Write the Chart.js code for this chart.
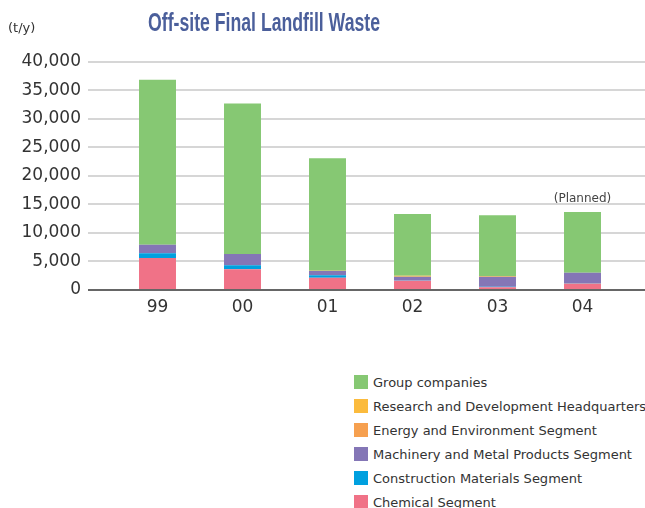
<!DOCTYPE html>
<html>
<head>
<meta charset="utf-8">
<script src="https://cdn.jsdelivr.net/npm/chart.js@4/dist/chart.umd.min.js"></script>
<style>
  html, body { margin: 0; padding: 0; background: #fff; }
  #wrap { position: relative; width: 645px; height: 508px; overflow: hidden; }
  #c { position: absolute; left: 0; top: 0; }
  #title { position: absolute; left: 148px; top: 10px; font-family: "Liberation Sans Narrow", "Liberation Sans", sans-serif; font-weight: 700; font-size: 25px; line-height: 25px; color: #4b5f9b; white-space: nowrap; transform-origin: 0 0; }
  #unit { position: absolute; left: 8px; top: 20px; font-family: "DejaVu Sans", sans-serif; font-size: 13px; line-height: 16px; color: #333; }
  #legend { position: absolute; left: 354px; top: 370px; font-family: "DejaVu Sans", sans-serif; font-size: 13px; color: #333; }
  .row { height: 24px; display: flex; align-items: center; white-space: nowrap; }
  .sw { width: 14px; height: 14px; margin-right: 5px; flex: none; }
</style>
</head>
<body>
<div id="wrap">
  <canvas id="c" width="645" height="334"></canvas>
  <div id="title">Off-site Final Landfill Waste</div>
  <div id="unit">(t/y)</div>
  <div id="legend"></div>
</div>
<script>
const years = ['99', '00', '01', '02', '03', '04'];
const chemical = [5600, 3600, 2100, 1600, 450, 1100];
const construction = [800, 700, 450, 50, 80, 100];
const machinery = [1500, 2000, 750, 650, 1750, 1800];
const energy = [0, 0, 50, 0, 0, 0];
const research = [0, 0, 0, 150, 150, 0];
const group = [29000, 26400, 19750, 10850, 10670, 10650];
const yTicks = [0, 5000, 10000, 15000, 20000, 25000, 30000, 35000, 40000];
const plannedLabel = '(Planned)';
const plannedIndex = 5;

const seriesNames = ['Chemical Segment', 'Construction Materials Segment', 'Machinery and Metal Products Segment', 'Energy and Environment Segment', 'Research and Development Headquarters', 'Group companies'];
const seriesColors = ['#f07287', '#00a0df', '#8476b6', '#f6a04f', '#fbbb3d', '#86c873'];
const seriesData = [chemical, construction, machinery, energy, research, group];

(function(){
  const t = document.getElementById('title');
  const w = t.getBoundingClientRect().width;
  t.style.transform = 'scaleX(' + (232 / w) + ')';
})();

const leg = document.getElementById('legend');
for (let i = seriesNames.length - 1; i >= 0; i--) {
  const r = document.createElement('div');
  r.className = 'row';
  r.innerHTML = '<span class="sw" style="background:' + seriesColors[i] + '"></span><span>' + seriesNames[i] + '</span>';
  leg.appendChild(r);
}

const gridPlugin = {
  id: 'extGrid',
  beforeDatasetsDraw(chart) {
    const ctx = chart.ctx, y = chart.scales.y;
    ctx.save();
    ctx.strokeStyle = '#d6d6d6';
    ctx.lineWidth = 2;
    yTicks.forEach(v => {
      if (v === 0) return;
      const py = Math.round(y.getPixelForValue(v));
      ctx.beginPath(); ctx.moveTo(88, py); ctx.lineTo(645, py); ctx.stroke();
    });
    ctx.restore();
  },
  afterDatasetsDraw(chart) {
    const ctx = chart.ctx, y = chart.scales.y, x = chart.scales.x;
    ctx.save();
    ctx.strokeStyle = '#666';
    ctx.lineWidth = 2;
    const py = Math.round(y.getPixelForValue(0));
    ctx.beginPath(); ctx.moveTo(88, py); ctx.lineTo(645, py); ctx.stroke();
    let tot = 0; seriesData.forEach(a => tot += a[plannedIndex]);
    ctx.fillStyle = '#444';
    ctx.font = '12px "DejaVu Sans"';
    ctx.textAlign = 'center';
    ctx.textBaseline = 'middle';
    ctx.fillText(plannedLabel, x.getPixelForValue(plannedIndex), y.getPixelForValue(tot) - 13);
    ctx.restore();
  }
};

new Chart(document.getElementById('c'), {
  type: 'bar',
  data: {
    labels: years,
    datasets: seriesNames.map((n, i) => ({
      label: n,
      data: seriesData[i],
      backgroundColor: seriesColors[i],
      borderWidth: 0,
      categoryPercentage: 1,
      barPercentage: 0.435
    }))
  },
  options: {
    responsive: false,
    animation: false,
    layout: { padding: { top: 62, right: 20, left: 0, bottom: 0 } },
    plugins: { legend: { display: false }, tooltip: { enabled: false }, title: { display: false } },
    scales: {
      x: {
        stacked: true,
        grid: { display: false, drawTicks: false },
        border: { display: false },
        ticks: { color: '#333', font: { family: 'DejaVu Sans', size: 17 }, padding: 8 },
        afterFit(s) { s.height = 40; }
      },
      y: {
        stacked: true,
        min: 0, max: 40000,
        afterBuildTicks(s) { s.ticks = yTicks.map(v => ({ value: v })); },
        grid: { display: false, drawTicks: false },
        border: { display: false },
        ticks: { color: '#333', font: { family: 'DejaVu Sans', size: 17 }, padding: 34,
                 callback: v => v.toLocaleString('en-US') },
        afterFit(s) { s.width = 115; }
      }
    }
  },
  plugins: [gridPlugin]
});
</script>
</body>
</html>
